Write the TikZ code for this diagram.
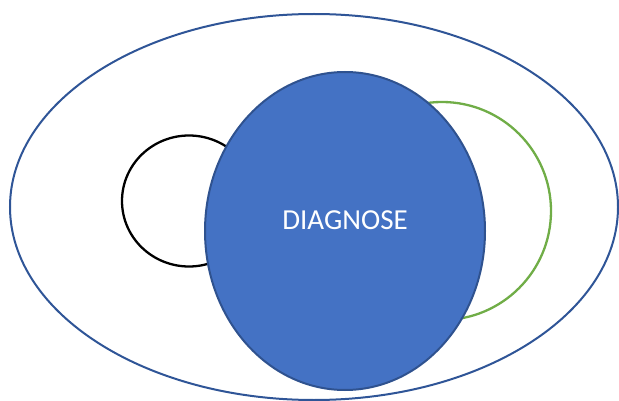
\documentclass[tikz,border=0pt]{standalone}
\usepackage{fontspec}
\setmainfont{Carlito}
\usetikzlibrary{shapes.geometric}
\definecolor{outerblue}{RGB}{47,85,151}
\definecolor{fillblue}{RGB}{68,114,196}
\definecolor{edgeblue}{RGB}{47,82,143}
\definecolor{ringgreen}{RGB}{112,173,71}
\begin{document}
\begin{tikzpicture}[
    x=1pt, y=-1pt,
    ring/.style={ellipse, inner sep=0pt, line width=2pt},
    label/.style={font=\fontsize{29}{34}\selectfont, text=white}
]
\useasboundingbox (0,0) rectangle (619,401);
\clip (0,0) rectangle (619,401);
% Frame
\node[ring, draw=outerblue, minimum width=608pt, minimum height=386pt] (world) at (314,207) {};
% Circles
\node[ring, draw=black, line width=2.3pt, minimum width=134pt, minimum height=131pt] (left) at (189,201) {};
\node[ring, draw=ringgreen, line width=2.3pt, minimum width=218pt, minimum height=218pt] (right) at (442,211) {};
% Diagnose
\node[ring, draw=edgeblue, fill=fillblue, minimum width=280pt, minimum height=318pt] (diag) at (345,231) {};
\node[label] (diagtext) at (345,220) {DIAGNOSE};
\end{tikzpicture}
\end{document}
